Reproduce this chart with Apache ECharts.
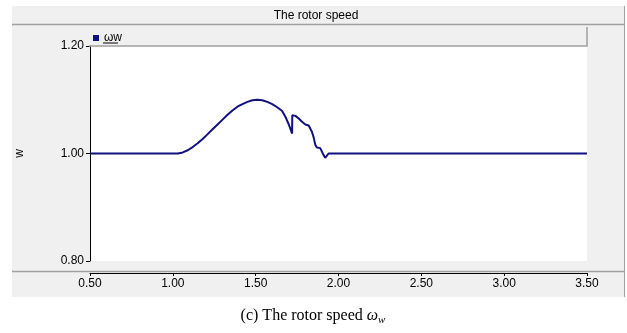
<!DOCTYPE html>
<html>
<head>
<meta charset="utf-8">
<script src="https://cdn.jsdelivr.net/npm/echarts@6/dist/echarts.min.js"></script>
<style>
  html, body { margin: 0; padding: 0; background: #fff; }
  #chart { width: 627px; height: 333px; }
</style>
</head>
<body>
<div id="chart"></div>
<script>
// rotor speed trace (time in s, speed in pu)
const times  = [0.50, 1.03, 1.06, 1.09, 1.12, 1.15, 1.18, 1.21, 1.24, 1.27, 1.30, 1.33, 1.36, 1.39, 1.42, 1.45, 1.48, 1.51, 1.54, 1.57, 1.60, 1.63, 1.66, 1.68, 1.70, 1.72,
                1.721, 1.74, 1.76, 1.78, 1.80, 1.82, 1.84, 1.85, 1.86, 1.87, 1.88, 1.89, 1.90, 1.91, 1.92, 1.93, 1.94, 3.50];
const speeds = [1.000, 1.000, 1.002, 1.006, 1.012, 1.019, 1.027, 1.036, 1.045, 1.054, 1.063, 1.072, 1.080, 1.087, 1.092, 1.096, 1.099, 1.100, 1.099, 1.096, 1.092, 1.086, 1.079, 1.068, 1.054, 1.037,
                1.071, 1.070, 1.065, 1.059, 1.054, 1.052, 1.040, 1.030, 1.016, 1.011, 1.009, 1.010, 1.009, 0.997, 0.992, 0.989, 1.000, 1.000];
const seriesName = 'ωw';
const chartTitle = 'The rotor speed';
const yAxisName = 'w';

const chart = echarts.init(document.getElementById('chart'), null, { renderer: 'canvas' });

const font = 'Liberation Sans, Arial, sans-serif';
const panelGray = '#f0f0f0';
const edgeGray = '#a0a0a0';

chart.setOption({
  animation: false,
  backgroundColor: '#fff',
  grid: { left: 90, right: 40, top: 46, bottom: 72, backgroundColor: '#fff', show: true, borderWidth: 0 },
  xAxis: {
    type: 'value',
    min: 0.5, max: 3.5, interval: 0.5,
    offset: 12,
    axisLine: { show: true, lineStyle: { color: '#000', width: 1 } },
    axisTick: { show: true, length: 3, inside: false, lineStyle: { color: '#000' } },
    axisLabel: { color: '#000', fontFamily: font, fontSize: 12, margin: 5, formatter: v => v.toFixed(2) },
    splitLine: { show: false }
  },
  yAxis: {
    type: 'value',
    min: 0.8, max: 1.2, interval: 0.2,
    name: yAxisName,
    nameLocation: 'middle',
    nameGap: 64,
    nameRotate: 90,
    nameTextStyle: { color: '#000', fontFamily: font, fontSize: 12 },
    axisLine: { show: true, lineStyle: { color: '#000', width: 1 } },
    axisTick: { show: true, length: 4, lineStyle: { color: '#000' } },
    axisLabel: { color: '#000', fontFamily: font, fontSize: 12, margin: 6, formatter: v => v.toFixed(2) },
    splitLine: { show: false }
  },
  legend: {
    data: [seriesName],
    left: 93, top: 32,
    padding: [0, 0, 0, 0],
    icon: 'rect', itemWidth: 6, itemHeight: 6, itemGap: 4,
    textStyle: { color: '#000', fontFamily: font, fontSize: 12 }
  },
  series: [{
    name: seriesName,
    type: 'line',
    showSymbol: false,
    color: '#101080',
    lineStyle: { color: '#101080', width: 2 },
    data: times.map((t, i) => [t, speeds[i]]),
    z: 5
  }],
  graphic: [
    // outer gray panel
    { type: 'rect', z: -10, shape: { x: 12, y: 6, width: 612, height: 291 }, style: { fill: panelGray } },
    { type: 'line', z: -9, shape: { x1: 624.5, y1: 6, x2: 624.5, y2: 297 }, style: { stroke: edgeGray, lineWidth: 1 } },
    // title bar
    { type: 'line', z: -9, shape: { x1: 12, y1: 24.5, x2: 624, y2: 24.5 }, style: { stroke: edgeGray, lineWidth: 1.5 } },
    { type: 'text', z: 10, style: { text: chartTitle, x: 316, y: 16, align: 'center', verticalAlign: 'middle', fill: '#000', font: '12px ' + font } },
    // legend bar
    { type: 'rect', z: -8, shape: { x: 89, y: 27, width: 498, height: 19 }, style: { fill: panelGray } },
    { type: 'polyline', z: 20, shape: { points: [[587, 27], [587, 46], [89, 46]] }, style: { stroke: edgeGray, lineWidth: 1.5, fill: null } },
    { type: 'line', z: 20, shape: { x1: 103, y1: 43, x2: 118, y2: 43 }, style: { stroke: '#000', lineWidth: 1 } },
    // separator above x axis
    { type: 'line', z: -6, shape: { x1: 12, y1: 271.5, x2: 624, y2: 271.5 }, style: { stroke: edgeGray, lineWidth: 1.5 } },
    // caption
    {
      type: 'text', z: 10,
      style: {
        x: 313, y: 316, align: 'center', verticalAlign: 'middle',
        text: '{n|(c) The rotor speed }{i|ω}{s|w}',
        rich: {
          n: { fontFamily: 'Liberation Serif, Times New Roman, serif', fontSize: 16, fill: '#000' },
          i: { fontFamily: 'Liberation Serif, Times New Roman, serif', fontSize: 16, fontStyle: 'italic', fill: '#000' },
          s: { fontFamily: 'Liberation Serif, Times New Roman, serif', fontSize: 11, fontStyle: 'italic', fill: '#000', padding: [8, 0, 0, 0] }
        }
      }
    }
  ]
});
</script>
</body>
</html>
